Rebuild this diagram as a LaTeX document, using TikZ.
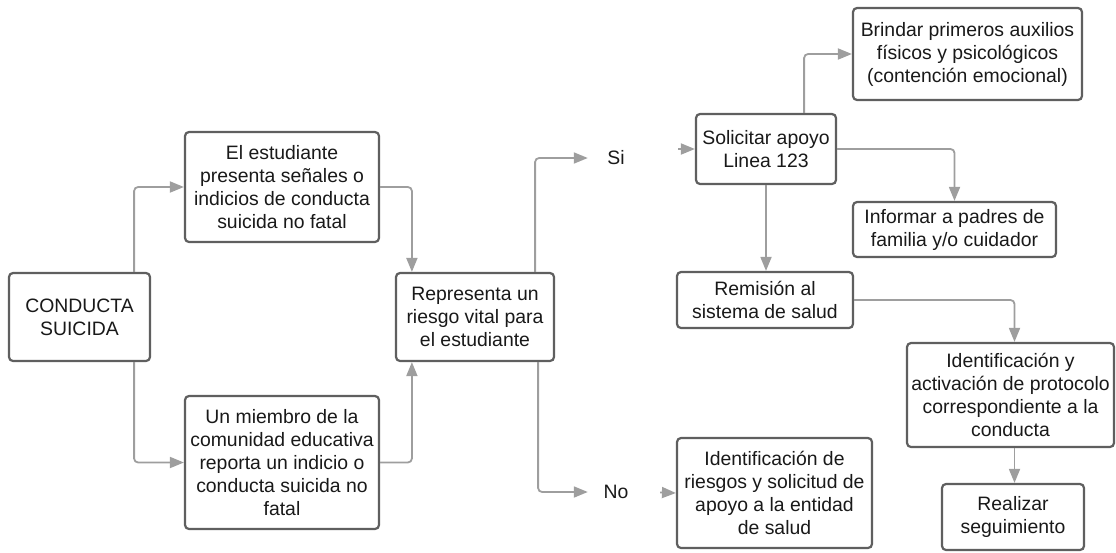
\documentclass[tikz,border=0pt]{standalone}
\usepackage{fontspec}
\setmainfont{Liberation Sans}
\usepackage{xcolor}
\usetikzlibrary{arrows.meta, positioning, calc}
\definecolor{linegray}{RGB}{158,158,158}
\definecolor{boxgray}{RGB}{95,95,95}
\definecolor{textgray}{RGB}{25,25,25}

\begin{document}
\begin{tikzpicture}[x=1pt, y=-1pt,
    box/.style={draw=boxgray, line width=2.2pt, rounded corners=4pt, fill=white, align=center,
      inner sep=0pt, text=textgray, font=\fontsize{19.4}{23}\selectfont},
    lbl/.style={inner sep=0pt, minimum width=56pt, text=textgray, font=\fontsize{19.4}{23}\selectfont},
    arr/.style={draw=linegray, line width=1.8pt, rounded corners=4pt, -{Triangle[length=14pt, width=11pt]}}]
      \useasboundingbox (0,0) rectangle (1116,552);

      % left part
      \node[box, minimum width=141pt, minimum height=88pt] (cs) at (79.5,317) {CONDUCTA\\SUICIDA};
      \node[box, minimum width=194pt, minimum height=110pt] (sen) at (282,187) {El estudiante\\presenta señales o\\indicios de conducta\\suicida no fatal};
      \node[box, minimum width=194pt, minimum height=133pt] (miem) at (282,462.5) {Un miembro de la\\comunidad educativa\\reporta un indicio o\\conducta suicida no\\fatal};
      \node[box, minimum width=158pt, minimum height=88pt] (rie) at (475,317) {Representa un\\riesgo vital para\\el estudiante};

      \node[lbl] (si) at (616,158) {Si};
      \node[lbl] (no) at (616,492) {No};

      % right part
      \node[box, minimum width=140pt, minimum height=70pt] (sol) at (766,149) {Solicitar apoyo\\Linea 123};
      \node[box, minimum width=229pt, minimum height=92pt] (bri) at (967.5,54) {Brindar primeros auxilios\\físicos y psicológicos\\(contención emocional)};
      \node[box, minimum width=203pt, minimum height=55pt] (inf) at (954.5,229.5) {Informar a padres de\\familia y/o cuidador};
      \node[box, minimum width=176pt, minimum height=56pt] (rem) at (765,300) {Remisión al\\sistema de salud};
      \node[box, minimum width=207pt, minimum height=104pt] (pro) at (1010.5,395) {Identificación y\\activación de protocolo\\correspondiente a la\\conducta};
      \node[box, minimum width=142pt, minimum height=66pt] (rea) at (1013,517) {Realizar\\seguimiento};
      \node[box, minimum width=195pt, minimum height=110pt] (ide) at (774.5,493) {Identificación de\\riesgos y solicitud de\\apoyo a la entidad\\de salud};

      % connectors
      \draw[arr] ([xshift=-17pt]cs.north east) |- (sen.west);
      \draw[arr] ([xshift=-17pt]cs.south east) |- (miem.west);
      \draw[arr] (sen.east) -| ([xshift=17pt]rie.north west);
      \draw[arr] (miem.east) -| ([xshift=17pt]rie.south west);
      \draw[arr] ([xshift=-20pt]rie.north east) |- (si.west);
      \draw[arr] ([xshift=-17pt]rie.south east) |- (no.west);
      \draw[arr, shorten <=34pt] (si.east |- sol.west) -- (sol.west);
      \draw[arr, shorten <=16pt] (no.east) -- (ide.west);
      \draw[arr] ([xshift=-33pt]sol.north east) |- (bri.west);
      \draw[arr] (sol.east) -| (inf.north);
      \draw[arr] (sol.south) -- (sol.south |- rem.north);
      \draw[arr] (rem.east) -| ([xshift=4pt]pro.north);
      \draw[arr] ([xshift=4pt]pro.south) -- ([xshift=4pt]pro.south |- rea.north);
    \end{tikzpicture}
\end{document}
